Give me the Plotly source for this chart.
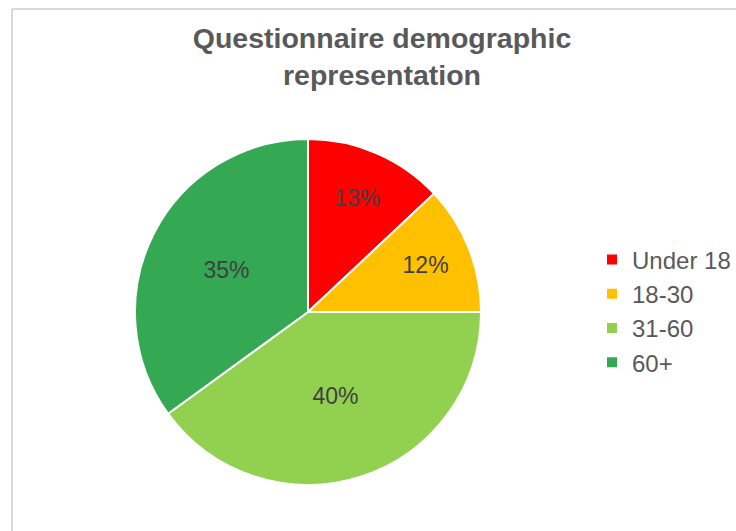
import plotly.graph_objects as go

categories = ["Under 18", "18-30", "31-60", "60+"]
values = [13, 12, 40, 35]
colors = ["#FF0000", "#FFC000", "#92D050", "#34A853"]
title_text = "Questionnaire demographic<br>representation"

W, H = 736, 531
cx, cy, r = 308, 312, 173

fig = go.Figure(go.Pie(
    labels=categories,
    values=values,
    sort=False,
    direction="clockwise",
    rotation=0,
    marker=dict(colors=colors, line=dict(color="white", width=2)),
    textinfo="percent",
    texttemplate="%{percent:.0%}",
    textposition="inside",
    insidetextorientation="horizontal",
    textfont=dict(family="Liberation Sans, Arial, sans-serif", size=23, color="#404040"),
    domain=dict(x=[(cx - r) / W, (cx + r) / W], y=[(H - cy - r) / H, (H - cy + r) / H]),
    hoverinfo="label+percent",
))

fig.update_layout(
    width=W, height=H,
    margin=dict(l=0, r=0, t=0, b=0, autoexpand=False),
    paper_bgcolor="white",
    title=dict(
        text="<b>" + title_text + "</b>",
        x=382 / W, xanchor="center",
        y=1 - 48 / H, yanchor="top",
        font=dict(family="Liberation Sans, Arial, sans-serif", size=28.5, color="#595959"),
    ),
    legend=dict(
        x=592 / W, xanchor="left",
        y=1 - 311 / H, yanchor="middle",
        font=dict(family="Liberation Sans, Arial, sans-serif", size=24, color="#595959"),
        itemwidth=30,
    ),
    shapes=[
        dict(type="line", xref="paper", yref="paper", x0=12 / W, x1=12 / W,
             y0=0, y1=1 - 9 / H, line=dict(color="#D9D9D9", width=2)),
        dict(type="line", xref="paper", yref="paper", x0=12 / W, x1=1,
             y0=1 - 9 / H, y1=1 - 9 / H, line=dict(color="#D9D9D9", width=2)),
    ],
)

fig.write_html(
    "out.html",
    config={"displayModeBar": False},
    post_script="document.body.style.margin='0';document.documentElement.style.overflow='hidden';document.body.style.overflow='hidden';",
)
